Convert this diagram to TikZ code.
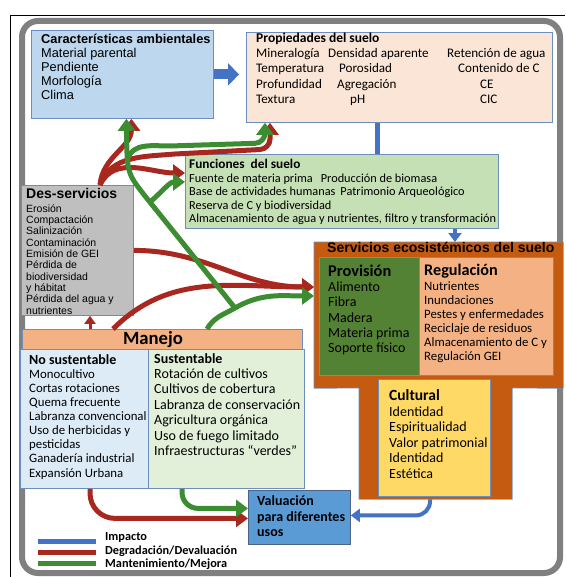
\documentclass[tikz,border=0pt]{standalone}
\usepackage{fontspec}
\setmainfont{Carlito}
\newfontfamily\arialfam{Liberation Sans}
\usepackage{xcolor}
\usepackage{tikz}
\usetikzlibrary{arrows.meta,calc}
\definecolor{impBlue}{HTML}{4472C4}
\definecolor{degRed}{HTML}{A82820}
\definecolor{mantGreen}{HTML}{3C8C32}
\definecolor{borde}{HTML}{6C8EBF}
\definecolor{frameGray}{HTML}{808080}
\definecolor{caractFill}{HTML}{BDD7EE}
\definecolor{propFill}{HTML}{FBE5D6}
\definecolor{funcFill}{HTML}{C5E0B4}
\definecolor{dessFill}{HTML}{BFBFBF}
\definecolor{servFill}{HTML}{C55A11}
\definecolor{provFill}{HTML}{548235}
\definecolor{reguFill}{HTML}{F4B183}
\definecolor{cultFill}{HTML}{FFD966}
\definecolor{nosustFill}{HTML}{DDEBF7}
\definecolor{sustFill}{HTML}{E2F0D9}
\definecolor{valuFill}{HTML}{5B9BD5}

\tikzset{
  caja/.style={draw=borde, line width=0.8pt, anchor=north west, inner sep=0pt},
  % multi-line text: placed by the baseline of its last line
  txt/.style={anchor=base west, align=left, inner sep=0pt},
  impacto/.style={draw=impBlue, line width=4pt, -{Triangle[length=9pt,width=13pt]}},
  degrad/.style={draw=degRed, line width=5pt, -{Triangle[length=12pt,width=17pt]}},
  mant/.style={draw=mantGreen, line width=5pt, -{Triangle[length=12pt,width=17pt]}},
}

\begin{document}
\begin{tikzpicture}[x=1pt,y=1pt]
  \useasboundingbox (0,0) rectangle (565,-577);
  % frame
  \draw[line width=0.6pt] (10,-577) -- (10,-15) -- (565,-15);
  \draw[draw=frameGray, line width=6pt, rounded corners=16pt] (22,-21) rectangle (560,-573);

  % top row
  \node[caja, fill=caractFill, minimum width=182pt, minimum height=88pt] (caract) at (31,-30) {};
  \node[txt, font=\arialfam\fontsize{12.8}{14}\selectfont] (caracttxt) at (41,-100)
    {\textbf{Características ambientales}\\Material parental\\Pendiente\\Morfología\\Clima};

  \node[caja, fill=propFill, minimum width=306pt, minimum height=90pt] (prop) at (246,-32) {};
  \node[txt, font=\bfseries\fontsize{13.5}{15}\selectfont] (proptit) at (256,-42.5) {Propiedades del suelo};
  \node[txt, font=\fontsize{13.1}{15.3}\selectfont] (propc1) at (256,-103.4)
    {Mineralogía\\Temperatura\\Profundidad\\Textura};
  \node[txt, font=\fontsize{13.1}{15.3}\selectfont] (propc2) at (328,-103.4)
    {Densidad aparente\\\hspace*{11pt}Porosidad\\\hspace*{9pt}Agregación\\\hspace*{22pt}pH};
  \node[txt, font=\fontsize{13.1}{15.3}\selectfont] (propc3) at (447,-103.4)
    {Retención de agua\\\hspace*{11pt}Contenido de C\\\hspace*{33pt}CE\\\hspace*{33pt}CIC};

  % funciones
  \node[caja, fill=funcFill, minimum width=313pt, minimum height=74pt] (func) at (185,-154) {};
  \node[txt, font=\bfseries\fontsize{13.3}{13.5}\selectfont] (functit) at (189,-168.5) {Funciones\ \ del suelo};
  \node[txt, font=\fontsize{12.3}{13.4}\selectfont] (functxt) at (189,-222.7)
    {Fuente de materia prima\hspace{8pt}Producción de biomasa\\
     Base de actividades humanas\hspace{5pt}Patrimonio Arqueológico\\
     Reserva de C y biodiversidad\\
     Almacenamiento de agua y nutrientes, filtro y transformación};

  % des-servicios
  \node[caja, fill=dessFill, minimum width=112pt, minimum height=130pt] (dess) at (21,-185) {};
  \node[txt, font=\arialfam\bfseries\fontsize{14}{14}\selectfont] (desstit) at (26,-199) {Des-servicios};
  \node[txt, font=\arialfam\fontsize{10.5}{11.35}\selectfont] (desstxt) at (26,-314.2)
    {Erosión\\Compactación\\Salinización\\Contaminación\\Emisión de GEI\\Pérdida de\\biodiversidad\\y hábitat\\Pérdida del agua y\\nutrientes};

  % servicios ecosistemicos
  \node[anchor=north west, inner sep=0pt, fill=servFill, minimum width=249pt, minimum height=146pt] (serv) at (314,-242) {};
  \node[anchor=north west, inner sep=0pt, fill=servFill, minimum width=153pt, minimum height=111pt] (servlow) at (359,-388) {};
  \draw[draw=borde, line width=0.6pt] (serv.north west) -- (serv.north east) -- (serv.south east)
    -- (servlow.north east) -- (servlow.south east) -- (servlow.south west) -- (servlow.north west)
    -- (serv.south west) -- cycle;
  \node[txt, font=\arialfam\bfseries\fontsize{14}{14}\selectfont] (servtit) at (327,-252) {Servicios ecosistémicos del suelo};

  \node[caja, fill=provFill, minimum width=100pt, minimum height=118pt] (prov) at (319,-257) {};
  \node[txt, font=\bfseries\fontsize{16.4}{16}\selectfont] (provtit) at (328,-276) {Provisión};
  \node[txt, font=\fontsize{14}{15.3}\selectfont] (provtxt) at (328,-352.7)
    {Alimento\\Fibra\\Madera\\Materia prima\\Soporte físico};

  \node[caja, fill=reguFill, minimum width=134pt, minimum height=118pt] (regu) at (419,-257) {};
  \node[txt, font=\bfseries\fontsize{16.2}{16}\selectfont] (regutit) at (424,-275) {Regulación};
  \node[txt, font=\fontsize{12.8}{14}\selectfont] (regutxt) at (424,-360.5)
    {Nutrientes\\Inundaciones\\Pestes y enfermedades\\Reciclaje de residuos\\Almacenamiento de C y\\Regulación GEI};

  \node[caja, fill=cultFill, minimum width=112pt, minimum height=117pt] (cult) at (378,-379) {};
  \node[txt, font=\bfseries\fontsize{15.5}{15.5}\selectfont] (culttit) at (389,-400) {Cultural};
  \node[txt, font=\fontsize{14}{15.4}\selectfont] (culttxt) at (389,-478.1)
    {Identidad\\Espiritualidad\\Valor patrimonial\\Identidad\\Estética};

  % manejo
  \node[caja, fill=reguFill, minimum width=280pt, minimum height=20pt] (manejo) at (22,-329) {};
  \node[anchor=base, inner sep=0pt, font=\bfseries\fontsize{18.7}{18.7}\selectfont] (manejotit) at (153,-344.5) {Manejo};
  \node[caja, fill=nosustFill, minimum width=128pt, minimum height=139pt] (nosust) at (20,-349) {};
  \node[caja, fill=sustFill, minimum width=156pt, minimum height=139pt] (sust) at (148,-349) {};
  \node[txt, font=\bfseries\fontsize{14}{14}\selectfont] (nosusttit) at (29,-364.5) {No sustentable};
  \node[txt, font=\fontsize{12.8}{14.14}\selectfont] (nosusttxt) at (29,-477)
    {Monocultivo\\Cortas rotaciones\\Quema frecuente\\Labranza convencional\\Uso de herbicidas y\\pesticidas\\Ganadería industrial\\Expansión Urbana};
  \node[txt, font=\bfseries\fontsize{14}{14}\selectfont] (susttit) at (154,-363.5) {Sustentable};
  \node[txt, font=\fontsize{14}{15.4}\selectfont] (susttxt) at (154,-455.5)
    {Rotación de cultivos\\Cultivos de cobertura\\Labranza de conservación\\Agricultura orgánica\\Uso de fuego limitado\\Infraestructuras “verdes”};

  % valuacion
  \node[caja, draw=borde!70!black, fill=valuFill, minimum width=102pt, minimum height=54pt] (valu) at (248,-490) {};
  \node[txt, font=\bfseries\fontsize{14}{15.5}\selectfont] (valutxt) at (257,-536.5)
    {Valuación\\para diferentes\\usos};

  % impacto
  \draw[impacto, line width=10pt, -{Triangle[length=11pt,width=22pt]}, shorten >=7pt] (caract.east) -- (caract.east -| prop.west);
  \coordinate (pb) at ($(prop.south west)+(131,0)$);
  \draw[draw=impBlue, line width=5pt] (pb) -- (pb |- func.north);
  \coordinate (fb) at ($(func.south west)+(270,0)$);
  \draw[impacto] (fb) -- (fb |- serv.north);
  \coordinate (sb) at ($(servlow.south west)+(71,0)$);
  \draw[impacto, rounded corners=14pt] (sb) |- ($(valu.east)+(0,2)$);

  % degradacion
  \coordinate (dsTop) at ($(dess.north west)+(79,0)$);
  \coordinate (mjA) at ($(manejo.north west)+(68,0)$);
  \coordinate (mjB) at ($(manejo.north west)+(91,0)$);
  \coordinate (mjC) at ($(manejo.north west)+(185,0)$);
  \coordinate (servA) at ($(serv.north west)+(0,-45)$);
  \coordinate (servB) at ($(serv.north west)+(0,-54)$);
  \draw[degrad, line width=3pt, -{Triangle[length=8pt,width=11pt]}] (mjA) -- (mjA |- dess.south);
  \draw[degrad] (mjB) to[out=45,in=180] (servA);
  \draw[degrad] (dess.east) to[out=0,in=180] (servA);
  \draw[degrad] (dsTop) to[out=85,in=-90] ($(caract.south)+(9,0)$);
  \draw[degrad] (dsTop) to[out=70,in=185] (175,-154) [rounded corners=10pt] -- (270,-149) -- ($(prop.south west)+(24,0)$);
  \draw[degrad] (dsTop) to[out=65,in=180] ($(func.north west)+(0,-19)$);

  % mantenimiento
  \coordinate (gBranch) at (235,-308);
  \coordinate (gFork) at (150,-202);
  \coordinate (gKnee) at ($(caract.south)+(5,-40)$);
  \draw[mant] (mjC) to[out=60,in=210] (gBranch) to[out=30,in=180] (servB);
  \draw[mant] (gBranch) -- (145,-196) .. controls (127,-173) .. ($(caract.south)+(4,0)$);
  \draw[mant] (gKnee) to[out=70,in=180] (170,-146) [rounded corners=10pt] -- (265,-143) -- ($(prop.south west)+(19,0)$);
  \draw[mant] (gFork) to[out=40,in=180] ($(func.north west)+(0,-28)$);

  % hacia valuacion
  \coordinate (nsB) at ($(nosust.south west)+(70,0)$);
  \coordinate (sB) at ($(sust.south west)+(34,0)$);
  \draw[degrad, rounded corners=25pt] (nsB) |- ($(valu.west)+(0,-1)$);
  \draw[mant, rounded corners=16pt] (sB) |- ($(valu.west)+(0,9)$);

  % leyenda
  \node[txt, font=\bfseries\fontsize{12.3}{12.3}\selectfont] (leyimp) at (105,-540) {Impacto};
  \node[txt, font=\bfseries\fontsize{12.3}{12.3}\selectfont] (leydeg) at (105,-554) {Degradación/Devaluación};
  \node[txt, font=\bfseries\fontsize{12.3}{12.3}\selectfont] (leyman) at (105,-567.5) {Mantenimiento/Mejora};
  \draw[draw=impBlue, line width=5pt] (38,-541) -- (96,-541);
  \draw[draw=degRed, line width=5pt] (38,-552) -- (96,-552);
  \draw[draw=mantGreen, line width=5pt] (38,-563) -- (96,-563);
\end{tikzpicture}
\end{document}
